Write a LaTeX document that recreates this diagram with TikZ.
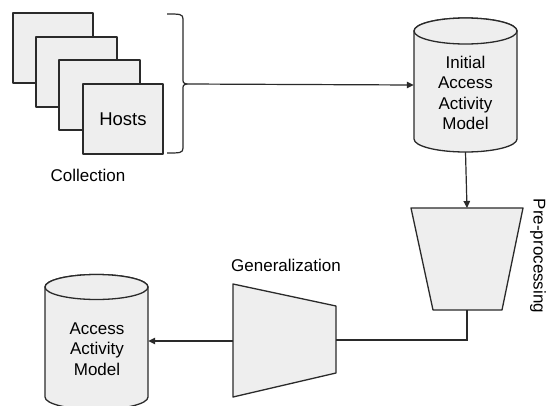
\documentclass[tikz,border=0pt]{standalone}
\usepackage{fontspec}
\setmainfont{Liberation Sans}
\usetikzlibrary{arrows.meta}
\definecolor{shapefill}{HTML}{EEEEEE}
\definecolor{ink}{HTML}{2A2A2A}
\tikzset{
  shapebox/.style={draw=ink, fill=shapefill, line width=1.3pt, line join=round},
  conn/.style={draw=ink, line width=1.2pt},
  arr/.style={conn, -{Triangle[length=7pt,width=6.5pt]}},
  lbl/.style={font=\fontsize{17}{20.5}\selectfont, text=black, align=center, inner sep=0pt},
}
\begin{document}
\begin{tikzpicture}[x=1pt,y=-1pt]
\useasboundingbox (0,0) rectangle (549,405);
\clip (0,0) rectangle (549,405);
\fill[white] (0,0) rectangle (549,405);

% Hosts stack
\draw[shapebox] (13,13) rectangle (93,83);
\draw[shapebox] (36,37) rectangle (117,107);
\draw[shapebox] (59,60) rectangle (140,130);
\node[shapebox, minimum width=80pt, minimum height=70pt, inner sep=0pt,
      font=\fontsize{18.5}{22}\selectfont] (hosts) at (123,119) {Hosts};
\node[lbl] (collection) at (88,175) {Collection};

% brace
\draw[conn, line join=round] (167,14) .. controls (180,14) and (183,14) .. (183,19)
  -- (183,78) .. controls (183,83) .. (187,84)
  .. controls (183,85) .. (183,90) -- (183,148)
  .. controls (183,153) and (180,153) .. (167,153);
\coordinate (bracetip) at (187,84);

% Initial cylinder
\node[inner sep=0pt, minimum width=103pt, minimum height=134pt] (cyl1) at (465.5,85) {};
\draw[shapebox] (414,31) -- (414,139) arc[start angle=180, end angle=360, x radius=51.5, y radius=-13]
  -- (517,31) arc[start angle=0, end angle=180, x radius=51.5, y radius=-13] -- cycle;
\draw[shapebox] (465.5,31) ellipse[x radius=51.5, y radius=13];
\node[lbl] (cyl1text) at (465.5,93) {Initial\\Access\\Activity\\Model};

% Pre-processing trapezoid
\draw[shapebox] (411,208) -- (523,208) -- (502,310) -- (433,310) -- cycle;
\coordinate (pretop) at (467,208);
\coordinate (prebot) at (467,310);
\node[lbl, rotate=-90] (prelbl) at (538,256) {Pre-processing};

% Generalization trapezoid
\draw[shapebox] (233,284) -- (336,306) -- (336,373) -- (233,397) -- cycle;
\coordinate (genright) at (336,340);
\coordinate (genleft) at (233,341);
\node[lbl] (genlbl) at (286,265) {Generalization};

% Final cylinder
\node[inner sep=0pt, minimum width=103pt, minimum height=134pt] (cyl2) at (96.5,341) {};
\draw[shapebox] (45,287) -- (45,397) arc[start angle=180, end angle=360, x radius=51.5, y radius=-12.5]
  -- (148,287) arc[start angle=0, end angle=180, x radius=51.5, y radius=-12.5] -- cycle;
\draw[shapebox] (96.5,287) ellipse[x radius=51.5, y radius=12.5];
\node[lbl] (cyl2text) at (97,349) {Access\\Activity\\Model};

% connectors
\draw[arr] (bracetip) -- (cyl1.west);
\draw[arr] (cyl1.south) -- (pretop);
\draw[conn] (prebot) |- (genright);
\draw[arr] (genleft) -- (cyl2.east);
\end{tikzpicture}
\end{document}
